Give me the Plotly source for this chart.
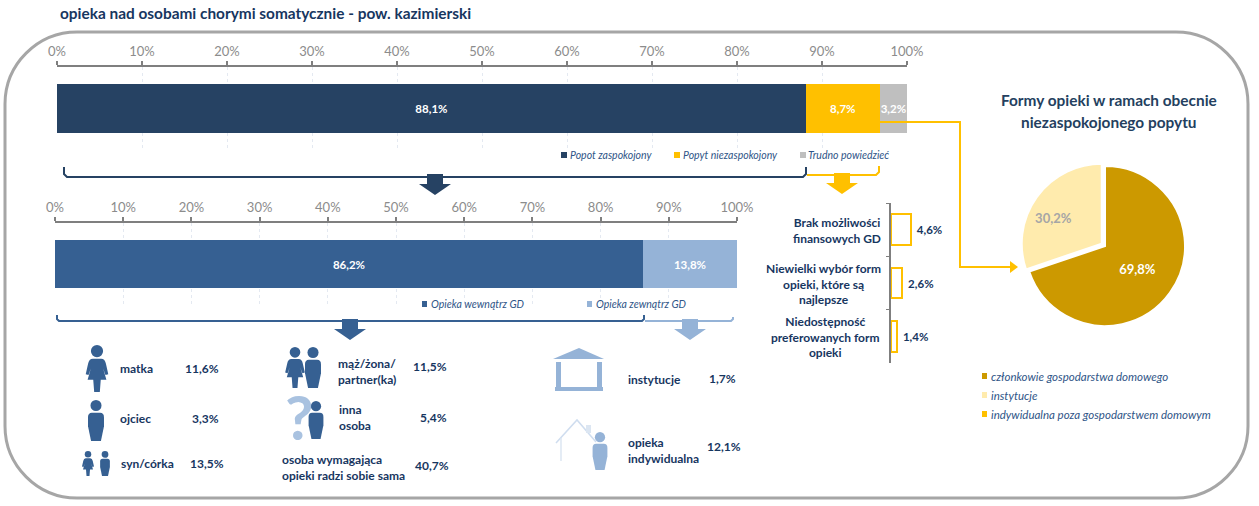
import plotly.graph_objects as go

W, H = 1259, 506
FONT = "Lato"
NAVY_TXT = "#17365F"
AXIS_GREY = "#7F7F7F"
TICK_TXT = "#8C8C8C"
GRID = "#E4E9F1"
LEG_TXT = "#2F5587"
NAVY = "#264263"
YEL = "#FFC000"
GREY = "#BFBFBF"
BLUE = "#366092"
LBLUE = "#95B3D7"
GOLD = "#CC9900"
CREAM = "#FFEBAD"

# ---- data ----
demand_names = ["Popot zaspokojony", "Popyt niezaspokojony", "Trudno powiedzieć"]
demand_values = [88.1, 8.7, 3.2]
care_names = ["Opieka wewnątrz GD", "Opieka zewnątrz GD"]
care_values = [86.2, 13.8]
reason_names = ["Brak możliwości<br>finansowych GD",
                "Niewielki wybór form<br>opieki, które są<br>najlepsze",
                "Niedostępność<br>preferowanych form<br>opieki"]
reason_values = [4.6, 2.6, 1.4]
pie_names = ["członkowie gospodarstwa domowego", "instytucje",
             "indywidualna poza gospodarstwem domowym"]
pie_values = [69.8, 30.2, 0.0]
inner_labels = ["matka", "ojciec", "syn/córka", "mąż/żona/<br>partner(ka)", "inna<br>osoba",
                "osoba wymagająca<br>opieki radzi sobie sama"]
inner_values = ["11,6%", "3,3%", "13,5%", "11,5%", "5,4%", "40,7%"]
outer_labels = ["instytucje", "opieka<br>indywidualna"]
outer_values = ["1,7%", "12,1%"]


def X(x):
    return x / W


def Y(y):
    return 1 - y / H


def pts(points):
    return "M " + " L ".join(f"{X(a):.5f},{Y(b):.5f}" for a, b in points)


shapes, annots = [], []


def poly(points, color, close=True, width=0, line=None):
    d = pts(points) + (" Z" if close else "")
    shapes.append(dict(type="path", xref="paper", yref="paper", path=d,
                       fillcolor=color if close else "rgba(0,0,0,0)",
                       line=dict(color=line or color, width=width)))


def polyline(points, color, width=2):
    poly(points, color, close=False, width=width, line=color)


def circle(cx, cy, r, color):
    shapes.append(dict(type="circle", xref="paper", yref="paper",
                       x0=X(cx - r), x1=X(cx + r), y0=Y(cy + r), y1=Y(cy - r),
                       fillcolor=color, line=dict(width=0)))


def rect(x0, y0, x1, y1, color):
    shapes.append(dict(type="rect", xref="paper", yref="paper",
                       x0=X(x0), x1=X(x1), y0=Y(y1), y1=Y(y0),
                       fillcolor=color, line=dict(width=0)))


def text(x, y, s, size=12, color=NAVY_TXT, bold=False, italic=False, anchor="left", align=None):
    if bold:
        s = "<b>" + s.replace("<br>", "</b><br><b>") + "</b>"
    if italic:
        s = "<i>" + s.replace("<br>", "</i><br><i>") + "</i>"
    pad = {"left": -2, "right": 2, "center": 0}[anchor]
    annots.append(dict(xref="paper", yref="paper", x=X(x + pad), y=Y(y), text=s, showarrow=False,
                       xanchor=anchor, yanchor="middle", align=align or anchor,
                       font=dict(family=FONT, size=size, color=color)))


def down_arrow(cx, top, color):
    poly([(cx - 8, top), (cx + 8, top), (cx + 8, top + 10), (cx + 16, top + 10),
          (cx, top + 21), (cx - 16, top + 10), (cx - 8, top + 10)], color)


def man(cx, top, h, color):
    circle(cx, top + .135 * h, .135 * h, color)
    def p(a, b):
        return f"{X(cx + a * h):.5f},{Y(top + b * h):.5f}"
    d = (f"M {p(-.1,.31)} Q {p(-.195,.31)} {p(-.195,.42)} L {p(-.195,.64)} L {p(-.12,1)} L {p(.12,1)} "
         f"L {p(.195,.64)} L {p(.195,.42)} Q {p(.195,.31)} {p(.1,.31)} Z")
    shapes.append(dict(type="path", xref="paper", yref="paper", path=d, fillcolor=color, line=dict(width=0)))


def woman(cx, top, h, color):
    circle(cx, top + .13 * h, .13 * h, color)
    def p(a, b):
        return f"{X(cx + a * h):.5f},{Y(top + b * h):.5f}"
    d = (f"M {p(-.09,.29)} Q {p(-.17,.29)} {p(-.19,.4)} L {p(-.24,.62)} L {p(-.18,.64)} L {p(-.13,.5)} "
         f"L {p(-.2,.74)} L {p(-.08,.74)} L {p(-.06,1)} L {p(.06,1)} L {p(.08,.74)} L {p(.2,.74)} "
         f"L {p(.13,.5)} L {p(.18,.64)} L {p(.24,.62)} L {p(.19,.4)} Q {p(.17,.29)} {p(.09,.29)} Z")
    shapes.append(dict(type="path", xref="paper", yref="paper", path=d, fillcolor=color, line=dict(width=0)))


# ---- outer rounded frame (circular corners) ----
L, R, T, B, r = 5, 1248, 32, 498, 72
k = 0.45 * r
d = (f"M {X(L+r)},{Y(T)} L {X(R-r)},{Y(T)} C {X(R-k)},{Y(T)} {X(R)},{Y(T+k)} {X(R)},{Y(T+r)} "
     f"L {X(R)},{Y(B-r)} C {X(R)},{Y(B-k)} {X(R-k)},{Y(B)} {X(R-r)},{Y(B)} "
     f"L {X(L+r)},{Y(B)} C {X(L+k)},{Y(B)} {X(L)},{Y(B-k)} {X(L)},{Y(B-r)} "
     f"L {X(L)},{Y(T+r)} C {X(L)},{Y(T+k)} {X(L+k)},{Y(T)} {X(L+r)},{Y(T)} Z")
shapes.append(dict(type="path", xref="paper", yref="paper", path=d, layer="below",
                   line=dict(color="#A6A6A6", width=3)))

# ---- title ----
text(60, 13, "opieka nad osobami chorymi somatycznie - pow. kazimierski", size=15.4, bold=True)

# ---- brackets + arrows ----
polyline([(64, 167), (64, 174), (67, 177), (803, 177), (806, 174), (806, 167)], NAVY)
polyline([(807, 175), (876, 175), (879, 172), (879, 166)], YEL)
down_arrow(435, 174, NAVY)
down_arrow(842, 173, YEL)
polyline([(57, 315), (57, 319), (59, 321), (642, 321), (644, 319), (644, 315)], BLUE)
polyline([(645, 321), (731, 321), (733, 319), (733, 317)], LBLUE)
down_arrow(350, 319, BLUE)
down_arrow(690, 319, LBLUE)

# ---- connector to pie ----
polyline([(880, 122), (960, 122), (960, 267), (1011, 267)], YEL)
poly([(1010, 261), (1018, 267), (1010, 273)], YEL)

# ---- legends ----
for xs, xt, name, col in zip([561, 674, 800], [570, 683, 808], demand_names, [NAVY, YEL, GREY]):
    rect(xs, 152, xs + 6, 158, col)
    text(xt, 155, name, size=10.5, color=LEG_TXT, italic=True)
for xs, xt, name, col in zip([422, 587], [431, 596], care_names, [BLUE, LBLUE]):
    rect(xs, 301, xs + 5, 307, col)
    text(xt, 304, name, size=10.5, color=LEG_TXT, italic=True)
for ys, name, col in zip([376, 395, 414], pie_names, [GOLD, CREAM, YEL]):
    rect(982, ys - 3, 987, ys + 3, col)
    text(991, ys, name, size=11.5, color=LEG_TXT, italic=True)

# ---- pie title ----
text(1109, 100, "Formy opieki w ramach obecnie", size=15.4, bold=True, color="#243F60", anchor="center")
text(1109, 122, "niezaspokojonego popytu", size=15.4, bold=True, color="#243F60", anchor="center")

# ---- reason labels ----
for xc, yc, s in zip([837, 823, 825], [230, 283.5, 337], reason_names):
    text(xc, yc, s, size=12, bold=True, anchor="center")

# ---- icons: inside household ----
woman(97, 345, 47, BLUE)
man(96, 400, 41, BLUE)
woman(88, 451, 25, BLUE)
man(105, 451, 25, BLUE)
woman(295, 347, 41, BLUE)
man(313, 347, 41, BLUE)
text(299, 416, "?", size=62, bold=True, color="#A9C2E0", anchor="center")
man(316, 401, 38, BLUE)

# ---- icons: outside household ----
poly([(579, 348), (604, 359), (553, 359)], LBLUE)
rect(556, 362, 561, 387, LBLUE)
rect(597, 362, 602, 387, LBLUE)
rect(555, 387, 603, 391, LBLUE)
polyline([(556, 443), (577, 420), (596, 442)], "#CFDDEF", 1.5)
polyline([(561, 438), (561, 461)], "#DCE6F2", 1.5)
rect(586, 425, 591, 433, "#DCE6F2")
man(600, 432, 38, LBLUE)

# ---- icon labels ----
lab_x = [120, 120, 121, 338, 339, 282]
lab_y = [368, 418, 463, 371, 417, 467]
val_x = [219, 219, 224, 447, 447, 449]
val_y = [368, 418, 463, 366, 417, 465]
for s, v, lx, ly, vx, vy in zip(inner_labels, inner_values, lab_x, lab_y, val_x, val_y):
    text(lx, ly, s, bold=True)
    text(vx, vy, v, bold=True, anchor="right")
for s, v, ly, vx, vy in zip(outer_labels, outer_values, [379, 450], [736, 741], [378, 446]):
    text(628, ly, s, bold=True)
    text(vx, vy, v, bold=True, anchor="right")

fig = go.Figure()
bar_font = dict(family=FONT, size=11.5, color="white", weight="bold")

# ---- top stacked bar ----
for name, val, col in zip(demand_names, demand_values, [NAVY, YEL, GREY]):
    fig.add_trace(go.Bar(x=[val], y=["a"], name=name, orientation="h", marker=dict(color=col, line=dict(width=0)),
                         texttemplate="%{x:.1f}%", textposition="inside", insidetextanchor="middle",
                         textangle=0, constraintext="none", textfont=bar_font,
                         xaxis="x", yaxis="y", showlegend=False, hoverinfo="skip"))

# ---- second stacked bar ----
for name, val, col in zip(care_names, care_values, [BLUE, LBLUE]):
    fig.add_trace(go.Bar(x=[val], y=["b"], name=name, orientation="h", marker=dict(color=col, line=dict(width=0)),
                         texttemplate="%{x:.1f}%", textposition="inside", insidetextanchor="middle",
                         textangle=0, constraintext="none", textfont=bar_font,
                         xaxis="x2", yaxis="y2", showlegend=False, hoverinfo="skip"))

# ---- reasons (outlined bars) ----
fig.add_trace(go.Bar(x=reason_values, y=reason_names, orientation="h",
                     marker=dict(color="rgba(0,0,0,0)", line=dict(color=YEL, width=2)),
                     texttemplate="\u00a0%{x:.1f}%", textposition="outside", cliponaxis=False,
                     textfont=dict(family=FONT, size=11.5, color=NAVY_TXT, weight="bold"),
                     xaxis="x3", yaxis="y3", showlegend=False, hoverinfo="skip"))

# ---- pie ----
pie_cx, pie_cy, pie_d = 1105, 246, 168
fig.add_trace(go.Pie(values=pie_values, labels=pie_names, sort=False, direction="clockwise", rotation=0,
                     marker=dict(colors=[GOLD, CREAM, YEL], line=dict(color="white", width=2)),
                     pull=[0, 0.05, 0],
                     texttemplate=["%{value:.1f}%", "%{value:.1f}%" + "\u00a0" * 8, ""],
                     textposition="inside", insidetextorientation="horizontal",
                     insidetextfont=dict(family=FONT, size=13, color=["white", "#A6A6A6", "rgba(0,0,0,0)"], weight="bold"),
                     domain=dict(x=[X(pie_cx - pie_d / 2), X(pie_cx + pie_d / 2)],
                                 y=[Y(pie_cy + pie_d / 2), Y(pie_cy - pie_d / 2)]),
                     showlegend=False, hoverinfo="skip"))


def pct_axis(x0, x1, anchor):
    return dict(domain=[X(x0), X(x1)], range=[0, 100], side="top", anchor=anchor, dtick=10, ticksuffix="%",
                ticks="outside", ticklen=4, tickcolor=AXIS_GREY, tickwidth=1.5, showline=True,
                linecolor=AXIS_GREY, linewidth=2, showgrid=True, gridcolor=GRID, gridwidth=1, griddash="dot",
                zeroline=False, tickfont=dict(family=FONT, size=13, color=TICK_TXT), fixedrange=True)


def hidden_y(y0, y1, anchor):
    return dict(domain=[Y(y1), Y(y0)], anchor=anchor, visible=False, fixedrange=True)


fig.update_layout(
    width=W, height=H, margin=dict(l=0, r=0, t=0, b=0, autoexpand=False),
    paper_bgcolor="white", plot_bgcolor="rgba(0,0,0,0)",
    barmode="stack", bargap=0.42, separators=", ",
    font=dict(family=FONT),
    xaxis=pct_axis(57, 907, "y"), yaxis=hidden_y(67, 150, "x"),
    xaxis2=pct_axis(55, 737, "y2"), yaxis2=hidden_y(223, 305, "x2"),
    xaxis3=dict(domain=[X(891), X(960)], range=[0, 69 / 4.35], visible=False, anchor="y3", fixedrange=True),
    yaxis3=dict(domain=[Y(363), Y(203)], anchor="x3", autorange="reversed", showticklabels=False,
                showline=True, linecolor=AXIS_GREY, linewidth=2, ticks="outside", ticklen=3,
                tickcolor=AXIS_GREY, tickson="boundaries", showgrid=False, fixedrange=True),
    shapes=shapes, annotations=annots,
)

fig.write_html("out.html", config=dict(displayModeBar=False),
               post_script="document.body.style.margin='0';")
